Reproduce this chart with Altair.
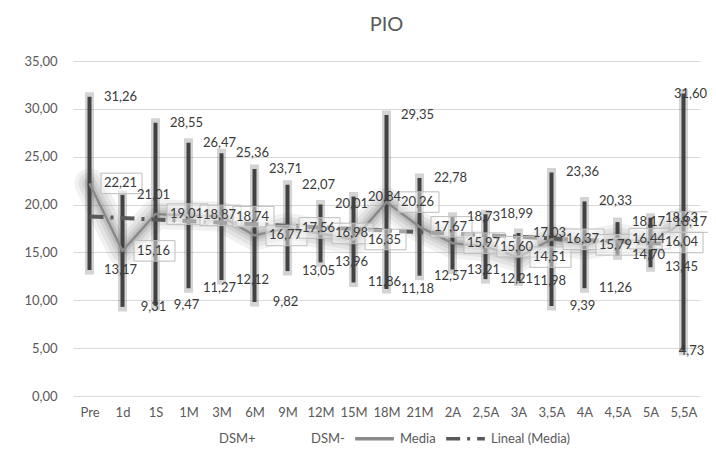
import json
import altair as alt
import pandas as pd

# ---- data ----
categories = ["Pre", "1d", "1S", "1M", "3M", "6M", "9M", "12M", "15M", "18M",
              "21M", "2A", "2,5A", "3A", "3,5A", "4A", "4,5A", "5A", "5,5A"]
media = [22.21, 15.16, 19.01, 18.87, 18.74, 16.77, 17.56, 16.98, 16.35, 20.26,
         17.67, 15.97, 15.60, 14.51, 16.37, 15.79, 16.44, 16.04, 18.17]
dsm_plus = [31.26, 21.01, 28.55, 26.47, 25.36, 23.71, 22.07, 20.01, 20.84, 29.35,
            22.78, 18.73, 18.99, 17.03, 23.36, 20.33, 18.17, 18.63, 31.60]
dsm_minus = [13.17, 9.31, 9.47, 11.27, 12.12, 9.82, 13.05, 13.96, 11.86, 11.18,
             12.57, 13.21, 12.21, 11.98, 9.39, 11.26, 14.70, 13.45, 4.73]
series_names = ["DSM+", "DSM-", "Media", "Lineal (Media)"]
y_ticks = [0, 5, 10, 15, 20, 25, 30, 35]

N = len(categories)
df = pd.DataFrame({
    "idx": list(range(1, N + 1)),
    "cat": categories,
    "media": media,
    "hi": dsm_plus,
    "lo": dsm_minus,
})

FONT = "Lato"
GREY_TXT = "#595959"
comma = lambda f: f"replace(format(datum.{f}, '.2f'), '.', ',')"

x_enc = alt.X(
    "idx:Q",
    scale=alt.Scale(domain=[0.5, N + 0.5], nice=False, zero=False),
    axis=alt.Axis(values=list(range(1, N + 1)),
                  labelExpr=json.dumps(categories) + "[datum.value - 1]",
                  grid=False, ticks=False, domain=False, title=None,
                  labelPadding=10, labelFontSize=13, labelFont=FONT,
                  labelColor=GREY_TXT),
)
y_scale = alt.Scale(domain=[0, 35], nice=False, zero=True)
y_axis = alt.Axis(values=y_ticks, labelExpr=comma("value"), grid=True,
                  gridColor="#d9d9d9", gridWidth=1, ticks=False, domain=False,
                  title=None, labelPadding=16, labelFontSize=13, labelFont=FONT,
                  labelColor=GREY_TXT)


def Y(field):
    return alt.Y(field, scale=y_scale, axis=y_axis)


base = alt.Chart(df)

# soft glow around the mean line
glow = [
    base.mark_line(color="#7a7a7a", strokeWidth=w, opacity=o,
                   strokeCap="round", strokeJoin="round")
    .encode(x=x_enc, y=Y("media:Q"))
    for w, o in [(30, 0.10), (22, 0.12), (14, 0.15), (8, 0.2)]
]

bar_shadow = base.mark_rule(color="#555555", strokeWidth=9, opacity=0.25,
                            strokeCap="square").encode(
    x=x_enc, y=Y("hi:Q"), y2="lo:Q")
bars = base.mark_rule(color="#424242", strokeWidth=4).encode(
    x=x_enc, y=Y("hi:Q"), y2="lo:Q")

color_scale = alt.Scale(domain=series_names,
                        range=["transparent", "transparent", "#8a8a8a", "#595959"])
dash_scale = alt.Scale(domain=series_names,
                       range=[[1, 0], [1, 0], [1, 0], [14, 7, 3, 7]])
legend = alt.Legend(title=None, orient="none", legendX=99, legendY=356,
                    direction="horizontal", symbolType="stroke",
                    symbolSize=1500, symbolStrokeWidth=3.5, labelFont=FONT,
                    labelFontSize=13, labelColor=GREY_TXT, columnPadding=3,
                    labelOffset=4)

media_line = base.transform_calculate(series="'Media'").mark_line(
    strokeWidth=2.5, strokeJoin="round").encode(
    x=x_enc, y=Y("media:Q"),
    color=alt.Color("series:N", scale=color_scale, legend=legend),
    strokeDash=alt.StrokeDash("series:N", scale=dash_scale, legend=legend),
)

trend = base.transform_regression("idx", "media").transform_calculate(
    series="'Lineal (Media)'").mark_line(strokeWidth=4).encode(
    x=x_enc, y=Y("media:Q"),
    color=alt.Color("series:N", scale=color_scale, legend=legend),
    strokeDash=alt.StrokeDash("series:N", scale=dash_scale, legend=legend),
)


def boxes(flt, off):
    return base.transform_filter(flt).mark_point(
        shape="M-1,-0.5H1V0.5H-1Z", size=1681, fill="white", fillOpacity=0.45,
        stroke="#bdbdbd", strokeWidth=1, opacity=1, xOffset=off
    ).encode(x=x_enc, y=Y("media:Q"))


def labels(field, flt, off):
    return base.transform_filter(flt).transform_calculate(
        lab=comma(field)).mark_text(
        align="center", baseline="middle", dx=off, font=FONT, fontSize=13,
        color="#3a3a3a").encode(x=x_enc, y=Y(f"{field}:Q"), text="lab:N")


inner = f"datum.idx < {N}"
last = f"datum.idx == {N}"

chart = alt.layer(
    *glow, bar_shadow, bars, media_line, trend,
    boxes(inner, 32), boxes(last, 7),
    labels("hi", inner, 31), labels("lo", inner, 31), labels("media", inner, 31),
    labels("hi", last, 7), labels("lo", last, 8), labels("media", last, 7),
).properties(
    width=627, height=335,
    title=alt.TitleParams("PIO", fontSize=20, font=FONT, fontWeight="normal",
                          color=GREY_TXT, anchor="middle", offset=20),
    autosize=alt.AutoSizeParams(type="none"),
    padding={"left": 65, "top": 53, "right": 8, "bottom": 55},
).configure_view(stroke=None)

chart.save("out.html", embed_options={"renderer": "svg", "actions": False})
